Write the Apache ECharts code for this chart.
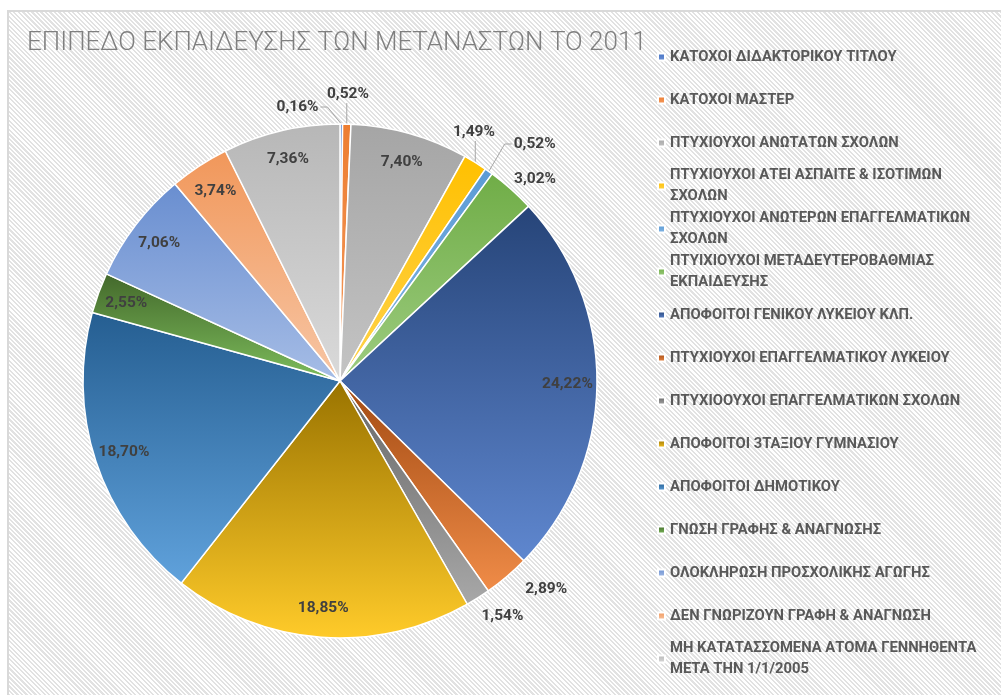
<!DOCTYPE html>
<html>
<head>
<meta charset="utf-8">
<script src="https://cdn.jsdelivr.net/npm/echarts@6/dist/echarts.min.js"></script>
<style>
  html, body { margin: 0; padding: 0; background: #fff; }
  #frame {
    position: absolute; left: 7px; top: 10px; width: 1010px; height: 700px;
    border: 2px solid #d9d9d9;
    background: repeating-linear-gradient(45deg, #ffffff 0px, #ffffff 1.6px, #e2e2e2 1.6px, #e2e2e2 3.2px);
  }
  #main { position: absolute; left: 0; top: 0; width: 1001px; height: 695px; }
</style>
</head>
<body>
<div id="frame"></div>
<div id="main"></div>
<script>
// ΕΠΙΠΕΔΟ ΕΚΠΑΙΔΕΥΣΗΣ ΤΩΝ ΜΕΤΑΝΑΣΤΩΝ ΤΟ 2011 (ποσοστά %)
var categories = [
    'ΚΑΤΟΧΟΙ ΔΙΔΑΚΤΟΡΙΚΟΥ ΤΙΤΛΟΥ',
    'ΚΑΤΟΧΟΙ ΜΑΣΤΕΡ',
    'ΠΤΥΧΙΟΥΧΟΙ ΑΝΩΤΑΤΩΝ ΣΧΟΛΩΝ',
    'ΠΤΥΧΙΟΥΧΟΙ ΑΤΕΙ ΑΣΠΑΙΤΕ & ΙΣΟΤΙΜΩΝ\nΣΧΟΛΩΝ',
    'ΠΤΥΧΙΟΥΧΟΙ ΑΝΩΤΕΡΩΝ ΕΠΑΓΓΕΛΜΑΤΙΚΩΝ\nΣΧΟΛΩΝ',
    'ΠΤΥΙΧΙΟΥΧΟΙ ΜΕΤΑΔΕΥΤΕΡΟΒΑΘΜΙΑΣ\nΕΚΠΑΙΔΕΥΣΗΣ',
    'ΑΠΟΦΟΙΤΟΙ ΓΕΝΙΚΟΥ ΛΥΚΕΙΟΥ ΚΛΠ.',
    'ΠΤΥΧΙΟΥΧΟΙ ΕΠΑΓΓΕΛΜΑΤΙΚΟΥ ΛΥΚΕΙΟΥ',
    'ΠΤΥΧΙΟΟΥΧΟΙ ΕΠΑΓΓΕΛΜΑΤΙΚΩΝ ΣΧΟΛΩΝ',
    'ΑΠΟΦΟΙΤΟΙ 3ΤΑΞΙΟΥ ΓΥΜΝΑΣΙΟΥ',
    'ΑΠΟΦΟΙΤΟΙ ΔΗΜΟΤΙΚΟΥ',
    'ΓΝΩΣΗ ΓΡΑΦΗΣ & ΑΝΑΓΝΩΣΗΣ',
    'ΟΛΟΚΛΗΡΩΣΗ ΠΡΟΣΧΟΛΙΚΗΣ ΑΓΩΓΗΣ',
    'ΔΕΝ ΓΝΩΡΙΖΟΥΝ ΓΡΑΦΗ & ΑΝΑΓΝΩΣΗ',
    'ΜΗ ΚΑΤΑΤΑΣΣΟΜΕΝΑ ΑΤΟΜΑ ΓΕΝΝΗΘΕΝΤΑ\nΜΕΤΑ ΤΗΝ 1/1/2005'
];
var shares = [0.16, 0.52, 7.40, 1.49, 0.52, 3.02, 24.22, 2.89, 1.54, 18.85, 18.70, 2.55, 7.06, 3.74, 7.36];

// χρώματα (πάνω / κάτω της διαβάθμισης)
var topColors = ['#4472c4', '#ed7d31', '#a5a5a5', '#ffc000', '#5b9bd5', '#70ad47', '#264478', '#a24a12',
    '#666666', '#997300', '#255e91', '#43682b', '#698ed0', '#f1975a', '#b7b7b7'];
var bottomColors = ['#6f93d6', '#f39a5e', '#c4c4c4', '#ffd34d', '#85b6e3', '#9dcc80', '#5f87cf', '#f08c48',
    '#a8a8a8', '#ffcb2a', '#60a2dc', '#7dbd5c', '#a6bde6', '#f7c6a5', '#dadada'];

// ετικέτες έξω από την πίτα, και ποιές έχουν γραμμή
var outsideLabels = [0, 1, 3, 4, 5, 7, 8];
var leaderLabels = [0, 1, 3, 4];
var labelShift = { 0: [-44, 13], 3: [-24, -5], 4: [21, -3], 5: [6, 0], 7: [22, 2], 8: [10, 6] };

var CX = 340, CY = 381, R = 257;

var Chart1 = echarts.init(document.getElementById('main'));

function fmt(v) {
    return v.toFixed(2).replace('.', ',') + '%';
}

function leader(ex, ey, x, y, w, h) {
    var midY = y + h / 2;
    if (ex < x) return [[ex, ey], [x - 9, midY], [x - 2, midY]];
    if (ex > x + w) return [[ex, ey], [x + w + 9, midY], [x + w + 2, midY]];
    var ty = ey > y + h ? y + h + 1 : y - 1;
    return [[ex, ey], [ex, (ey + ty) / 2], [ex, ty]];
}

function sliceDir(i) {
    var lay = Chart1.getModel().getSeriesByIndex(0).getData().getItemLayout(i);
    var mid = (lay.startAngle + lay.endAngle) / 2;
    return [Math.cos(mid), Math.sin(mid)];
}

var pieData = categories.map(function (name, i) {
    var outside = outsideLabels.indexOf(i) >= 0;
    return {
        name: name,
        value: shares[i],
        itemStyle: {
            color: {
                type: 'linear', x: 0, y: 0, x2: 0, y2: 1,
                colorStops: [{ offset: 0, color: topColors[i] }, { offset: 1, color: bottomColors[i] }]
            }
        },
        label: { position: outside ? 'outside' : 'inside' },
        labelLine: { show: leaderLabels.indexOf(i) >= 0 }
    };
});

var legends = categories.map(function (name, i) {
    var twoLines = name.indexOf('\n') >= 0;
    return {
        data: [name],
        orient: 'vertical',
        left: 657,
        top: 57 + i * 43 - (twoLines ? 32.25 : 10.75),
        padding: 0,
        icon: 'rect',
        itemWidth: 7,
        itemHeight: 7,
        selectedMode: false,
        textStyle: {
            color: '#595959',
            fontFamily: 'Roboto',
            fontWeight: 'bold',
            fontSize: 14.8,
            lineHeight: 21.5,
            padding: twoLines ? [21.5, 0, 0, 0] : 0
        }
    };
});

var option1 = {
    animation: false,
    title: {
        text: 'ΕΠΙΠΕΔΟ ΕΚΠΑΙΔΕΥΣΗΣ ΤΩΝ ΜΕΤΑΝΑΣΤΩΝ ΤΟ 2011',
        left: 27,
        top: 28,
        padding: 0,
        textStyle: {
            color: '#7f7f7f',
            fontFamily: 'Roboto',
            fontWeight: 300,
            fontSize: 26,
            lineHeight: 30
        }
    },
    legend: legends,
    series: [
        {
            name: 'ΕΠΙΠΕΔΟ ΕΚΠΑΙΔΕΥΣΗΣ',
            type: 'pie',
            center: [CX, CY],
            radius: R,
            startAngle: 90,
            avoidLabelOverlap: false,
            itemStyle: { borderColor: '#ffffff', borderWidth: 1.5 },
            label: {
                show: true,
                color: '#404040',
                fontFamily: 'Roboto',
                fontWeight: 'bold',
                fontSize: 15.5,
                formatter: function (p) { return fmt(p.value); }
            },
            labelLine: {
                length: 15,
                length2: 5,
                lineStyle: { color: '#a6a6a6', width: 1 }
            },
            labelLayout: function (p) {
                var i = p.dataIndex;
                var d = sliceDir(i);
                var w = p.labelRect.width, h = p.labelRect.height;
                var x, y;
                if (outsideLabels.indexOf(i) < 0) {
                    x = CX + d[0] * R * 0.885;
                    y = CY + d[1] * R * 0.885;
                    return { x: x, y: y, align: 'center', verticalAlign: 'middle' };
                }
                var hasLine = leaderLabels.indexOf(i) >= 0;
                var g = hasLine ? 22 : 6;
                x = CX + d[0] * (R + g) + d[0] * w / 2;
                y = CY + d[1] * (R + g) + d[1] * h / 2;
                var s = labelShift[i] || [0, 0];
                x += s[0];
                y += s[1];
                var res = { x: x, y: y, align: 'center', verticalAlign: 'middle' };
                if (hasLine) {
                    res.labelLinePoints = leader(CX + d[0] * R, CY + d[1] * R, x - w / 2, y - h / 2, w, h);
                }
                return res;
            },
            emphasis: { disabled: true },
            data: pieData
        }
    ]
};

Chart1.setOption(option1);
</script>
</body>
</html>
